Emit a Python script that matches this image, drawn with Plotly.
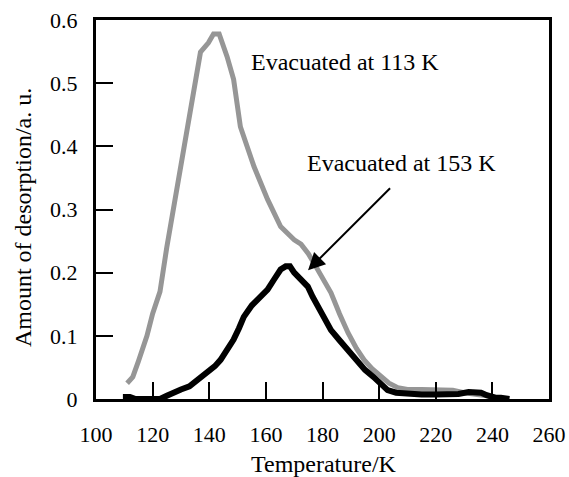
import plotly.graph_objects as go

# Evacuated at 113 K (gray)
t113 = [111, 113, 115, 118, 120, 122.6, 125, 128.6, 131.5, 134.4, 136.9, 139.7, 141.5,
        143.5, 146.3, 148.6, 151, 155.8, 160.6, 165.2, 170, 172.4, 175, 177, 180, 183,
        186, 189, 192, 194.7, 197.5, 200.6, 203.5, 206.6, 210, 215, 220, 226, 230, 235,
        240, 243, 246]
a113 = [0.025, 0.035, 0.06, 0.10, 0.135, 0.17, 0.24, 0.333, 0.407, 0.475, 0.549, 0.564,
        0.578, 0.578, 0.542, 0.506, 0.431, 0.368, 0.316, 0.273, 0.252, 0.245, 0.23, 0.215,
        0.19, 0.168, 0.135, 0.105, 0.08, 0.062, 0.048, 0.035, 0.025, 0.018, 0.015, 0.015,
        0.015, 0.014, 0.01, 0.007, 0.004, 0.0, 0.0]

# Evacuated at 153 K (black)
t153 = [109.5, 112, 114, 118, 122.6, 125, 127, 130, 133, 136, 139, 142, 144, 146.5,
        148.6, 150.5, 152.2, 155, 157, 160.6, 163, 165.2, 167, 168.5, 170, 172.5, 174.8,
        176.5, 178.4, 181, 183, 186, 189, 192, 195, 198, 200.6, 203, 206, 210, 215, 220,
        225, 228, 231.6, 236, 238, 241, 243, 246]
a153 = [0.003, 0.003, 0.0, 0.0, 0.0, 0.005, 0.01, 0.015, 0.02, 0.03, 0.04, 0.052, 0.062,
        0.078, 0.094, 0.112, 0.13, 0.148, 0.157, 0.173, 0.19, 0.205, 0.21, 0.21, 0.2,
        0.19, 0.178, 0.162, 0.146, 0.125, 0.109, 0.093, 0.078, 0.062, 0.046, 0.035, 0.025,
        0.014, 0.01, 0.008, 0.007, 0.007, 0.007, 0.008, 0.011, 0.01, 0.006, 0.002, 0.002, 0.0]

xticks = [100, 120, 140, 160, 180, 200, 220, 240, 260]
yticks = [0, 0.1, 0.2, 0.3, 0.4, 0.5, 0.6]

FONT = "Liberation Serif, DejaVu Serif, serif"

fig = go.Figure()
fig.add_trace(go.Scatter(x=t113, y=a113, mode="lines",
                         line=dict(color="rgb(150,150,150)", width=5),
                         showlegend=False))
fig.add_trace(go.Scatter(x=t153, y=a153, mode="lines",
                         line=dict(color="black", width=6),
                         showlegend=False))

fig.update_layout(
    width=569, height=477,
    margin=dict(l=96, r=20, t=20, b=78),
    paper_bgcolor="white", plot_bgcolor="white",
    font=dict(family=FONT, size=22, color="black"),
    annotations=[
        dict(x=188, y=0.534, xref="x", yref="y", text="Evacuated at 113 K",
             showarrow=False, font=dict(family=FONT, size=24)),
        dict(x=208, y=0.374, xref="x", yref="y", text="Evacuated at 153 K",
             showarrow=False, font=dict(family=FONT, size=24)),
        dict(x=174.9, y=0.204, xref="x", yref="y", ax=204.4, ay=0.336,
             axref="x", ayref="y", text="", showarrow=True,
             arrowhead=2, arrowsize=1.7, arrowwidth=2, arrowcolor="black"),
        dict(x=-0.161, y=0.4776, xref="paper", yref="paper", textangle=-90,
             text="Amount of desorption/a. u.", showarrow=False,
             xanchor="center", yanchor="middle", font=dict(family=FONT, size=24)),
        dict(x=0.5044, y=-0.171, xref="paper", yref="paper",
             text="Temperature/K", showarrow=False,
             xanchor="center", yanchor="middle", font=dict(family=FONT, size=24)),
    ],
    xaxis=dict(range=[100, 260], tickvals=xticks, ticks="inside", ticklen=17,
               tickwidth=2, tickcolor="black", showline=True, linecolor="black",
               linewidth=3, mirror=True, showgrid=False, zeroline=False,
               ticklabelstandoff=14, automargin=False,
               tickfont=dict(family=FONT, size=22)),
    yaxis=dict(range=[0, 0.6], tickvals=yticks, ticks="inside", ticklen=17,
               tickwidth=2, tickcolor="black", showline=True, linecolor="black",
               linewidth=3, mirror=True, showgrid=False, zeroline=False,
               ticklabelstandoff=11, automargin=False,
               tickfont=dict(family=FONT, size=22)),
)

fig.write_html("out.html")
